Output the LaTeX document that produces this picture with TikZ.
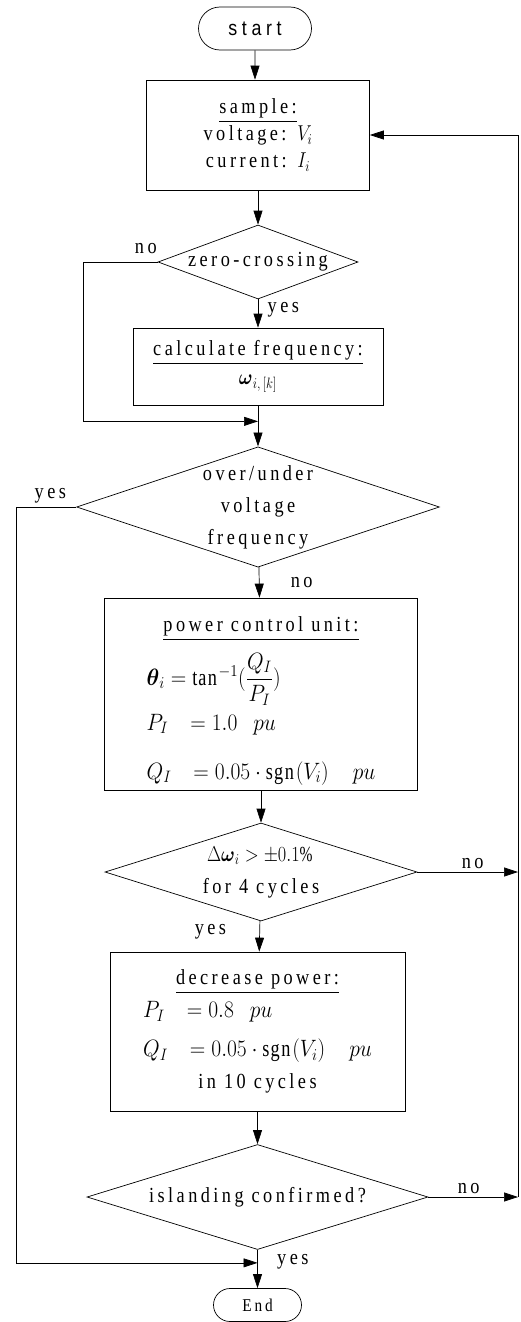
\RequirePackage{fix-cm}
\documentclass[tikz,border=0pt]{standalone}
\usepackage{fontspec}
\usepackage{amsmath}
\setmainfont{Liberation Serif}[FakeStretch=0.85,LetterSpace=16]
\newfontfamily\termfont{Liberation Sans}[FakeStretch=0.85,LetterSpace=22]
\usetikzlibrary{arrows.meta, positioning, shapes.geometric, shapes.misc}
\newcommand{\mth}[1]{\scalebox{0.85}[1]{$#1$}}
\newcommand{\frm}[1]{\scalebox{1}[1.1]{$#1$}}

\begin{document}
\begin{tikzpicture}[
x=1pt, y=1pt,
node distance=100pt,
line width=0.7pt,
font=\fontsize{21.5}{27}\selectfont,
box/.style={rectangle, draw, align=center, inner sep=0pt},
decision/.style={diamond, draw, align=center, inner sep=0pt},
terminal/.style={rounded rectangle, draw, inner sep=0pt},
arrow/.style={-{Triangle[length=14pt,width=9pt]}}
]
\useasboundingbox (0,0) rectangle (520,-1322);

\node[terminal, minimum width=113pt, minimum height=43pt, font=\termfont\fontsize{21}{24}\selectfont] (start) at (255,-28.5) {start};
\node[box, below of=start, node distance=106.5pt, xshift=3pt, minimum width=223pt, minimum height=110pt] (sample) {\underline{sample:}\\ voltage: \mth{V_i}\\ current: \mth{I_i}};
\node[decision, below of=sample, node distance=127pt, minimum width=200pt, minimum height=74pt, aspect=2.7] (zero) {zero-crossing};
\node[box, below of=zero, node distance=104.5pt, minimum width=250pt, minimum height=77pt] (freq) {\underline{calculate frequency:}\\[2pt] \mth{\boldsymbol{\omega}_{i,\,[k]}}};
\node[decision, below of=freq, node distance=140.5pt, minimum width=363pt, minimum height=120pt, aspect=3] (over) {over/under\\[5pt] voltage\\[5pt] frequency};
\node[box, below of=over, node distance=187pt, xshift=3pt, minimum width=313pt, minimum height=192pt] (pcu) {\mbox{}\\[4pt]
  \underline{power control unit:}\\[12pt]
  \begin{tabular}{@{}l@{}}
  \frm{\boldsymbol{\theta}_i = \tan^{-1}(\dfrac{Q_I}{P_I})}\\[18pt]
  \frm{P_I\ \ = 1.0\ \ pu}\\[22pt]
  \frm{Q_I\ \ = 0.05\cdot\mathrm{sgn}(V_i)\ \ \ pu}
  \end{tabular}};
\node[decision, below of=pcu, node distance=178pt, minimum width=312pt, minimum height=98pt, aspect=3.2] (dw) {\mth{\Delta\boldsymbol{\omega}_i > \pm 0.1\%}\\[5pt] for 4 cycles};
\node[box, below of=dw, node distance=159.5pt, xshift=-3.5pt, minimum width=295pt, minimum height=159pt] (dec) {\underline{decrease power:}\\[4pt]
  \begin{tabular}{@{}l@{}}
  \frm{P_I\ \ = 0.8\ \ pu}\\[12pt]
  \frm{Q_I\ \ = 0.05\cdot\mathrm{sgn}(V_i)\ \ \ pu}
  \end{tabular}\\[8pt]
  in 10 cycles};
\node[decision, below of=dec, node distance=165.5pt, minimum width=341pt, minimum height=105pt, aspect=3.25] (isl) {islanding confirmed?};
\node[terminal, below of=isl, node distance=108pt, minimum width=88pt, minimum height=33pt, font=\fontsize{18}{20}\selectfont] (finish) {End};

\coordinate[below=16pt of freq.south] (jA);
\coordinate[below=13pt of isl.south] (jB);
\coordinate (rail) at (518,0);

\draw[arrow] (start) -- (start |- sample.north);
\draw[arrow] (sample) -- (zero);
\draw[arrow] (zero) -- node[right=6pt, pos=0.35] {yes} (freq);
\draw[arrow] (freq) -- (over);
\draw[arrow] (zero.west) -- node[above=5pt, pos=0.16] {no} ++(-74,0) |- (jA);
\draw[arrow] (over) -- node[right=28pt] {no} (pcu);
\draw[arrow] (over.west) -- node[above, pos=0.43] {yes} ++(-60,0) |- (jB);
\draw[arrow] (pcu) -- (dw);
\draw[arrow] (dw) -- node[left=30pt, pos=0.35] {yes} (dec);
\draw[arrow] (dec) -- (isl);
\draw[arrow] (isl) -- node[right=16pt, pos=0.3] {yes} (finish);
\draw[arrow] (dw.east) -- node[above, pos=0.55] {no} (dw.east -| rail);
\draw[arrow] (isl.east) -- node[above, pos=0.45] {no} (isl.east -| rail);
\draw[arrow] (isl.east -| rail) -- (sample.east -| rail) -- (sample.east);

\end{tikzpicture}
\end{document}
